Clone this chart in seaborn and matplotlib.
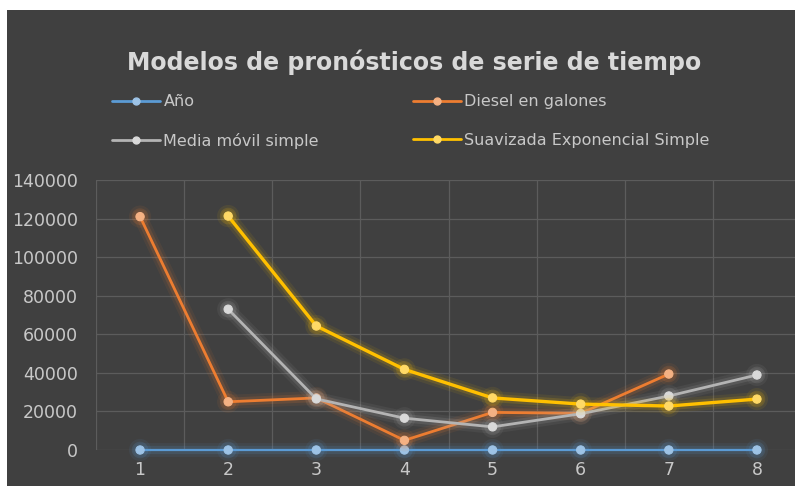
import numpy as np
import pandas as pd
import matplotlib
matplotlib.use("Agg")
import matplotlib.pyplot as plt
import matplotlib.patheffects as pe
from matplotlib.patches import Rectangle
from matplotlib.lines import Line2D
import seaborn as sns

# ---- data ----
periodos = [1, 2, 3, 4, 5, 6, 7, 8]
anio = [1, 2, 3, 4, 5, 6, 7, 8]
diesel = [121000, 25000, 27000, 5000, 19500, 19000, 39400, np.nan]
media_movil = [np.nan, 73000, 26500, 16500, 12000, 18800, 28000, 38900]
suavizada = [np.nan, 121300, 64300, 41800, 27000, 23800, 22800, 26400]
series_names = ["Año", "Diesel en galones", "Media móvil simple",
                "Suavizada Exponencial Simple"]
y_ticks = [0, 20000, 40000, 60000, 80000, 100000, 120000, 140000]
title = "Modelos de pronósticos de serie de tiempo"

colors = {"Año": "#5b9bd5", "Diesel en galones": "#ed7d31",
          "Media móvil simple": "#b4b4b4",
          "Suavizada Exponencial Simple": "#ffc000"}
marker_fill = {"Año": "#9dc3e6", "Diesel en galones": "#f4b183",
               "Media móvil simple": "#d9d9d9",
               "Suavizada Exponencial Simple": "#ffd966"}
line_w = {"Año": 1.6, "Diesel en galones": 2.0, "Media móvil simple": 2.0,
          "Suavizada Exponencial Simple": 2.4}

df = pd.DataFrame({
    "Periodo": periodos * 4,
    "Valor": anio + diesel + media_movil + suavizada,
    "Serie": sum([[s] * len(periodos) for s in series_names], []),
}).dropna()

BG = "#404040"
GRID = "#5c5c5c"
TXT = "#c8c8c8"

sns.set_theme(style="dark")
plt.rcParams["font.family"] = ["DejaVu Sans"]

W, H = 795, 486
fig = plt.figure(figsize=(W / 100, H / 100), dpi=100, facecolor="white")
fig.patches.append(Rectangle((7 / W, 0), 1, (H - 10) / H, transform=fig.transFigure,
                             facecolor=BG, edgecolor="none", zorder=-5))

left_px, right_px = 96, 801
top_px, bot_px = 180, 450
ax = fig.add_axes([left_px / W, (H - bot_px) / H, (right_px - left_px) / W,
                   (bot_px - top_px) / H])
ax.set_zorder(2)
ax.set_facecolor(BG)

sns.lineplot(data=df, x="Periodo", y="Valor", hue="Serie", hue_order=series_names,
             palette=colors, marker="o", markersize=6, linewidth=2.0, ax=ax,
             legend=False, sort=True)

for line, name in zip(ax.lines, series_names):
    c = colors[name]
    line.set_clip_on(False)
    line.set_linewidth(line_w[name])
    line.set_markerfacecolor(marker_fill[name])
    line.set_markeredgecolor(marker_fill[name])
    line.set_zorder(3)
    line.set_path_effects([
        pe.Stroke(linewidth=10, foreground=c, alpha=0.08),
        pe.Stroke(linewidth=6, foreground=c, alpha=0.15),
        pe.Normal(),
    ])

ax.set_xlim(0.5, 8.5)
ax.set_ylim(0, 140000)
ax.set_xticks(periodos)
ax.set_xticklabels([str(p) for p in periodos])
ax.set_yticks(y_ticks)
ax.set_yticklabels([str(v) for v in y_ticks])
ax.set_xticks(np.arange(0.5, 9, 1), minor=True)
ax.grid(True, which="major", axis="y", color=GRID, linewidth=0.9)
ax.grid(True, which="minor", axis="x", color=GRID, linewidth=0.9)
ax.grid(False, which="major", axis="x")
ax.tick_params(axis="both", which="both", length=0, colors=TXT, labelsize=12.5)
ax.tick_params(axis="y", pad=13)
ax.tick_params(axis="x", pad=8)
for s in ax.spines.values():
    s.set_visible(False)
ax.set_xlabel("")
ax.set_ylabel("")

fig.text(414 / W, (H - 62) / H, title, ha="center", va="center",
         fontsize=17, fontweight="bold", color="#d9d9d9")

handles = []
for name in series_names:
    handles.append(Line2D([0], [0], color=colors[name], linewidth=2.0, marker="o",
                          markersize=5, markerfacecolor=marker_fill[name],
                          markeredgecolor=marker_fill[name]))
order = [0, 2, 1, 3]
leg = fig.legend([handles[i] for i in order], [series_names[i] for i in order],
                 ncol=2, loc="upper left", bbox_to_anchor=(98 / W, (H - 80) / H),
                 frameon=False, fontsize=11.5, handlelength=3.0, handletextpad=0.2,
                 columnspacing=5.9, labelspacing=1.45, labelcolor=TXT)

fig.savefig("out.png", dpi=100, facecolor="white")
